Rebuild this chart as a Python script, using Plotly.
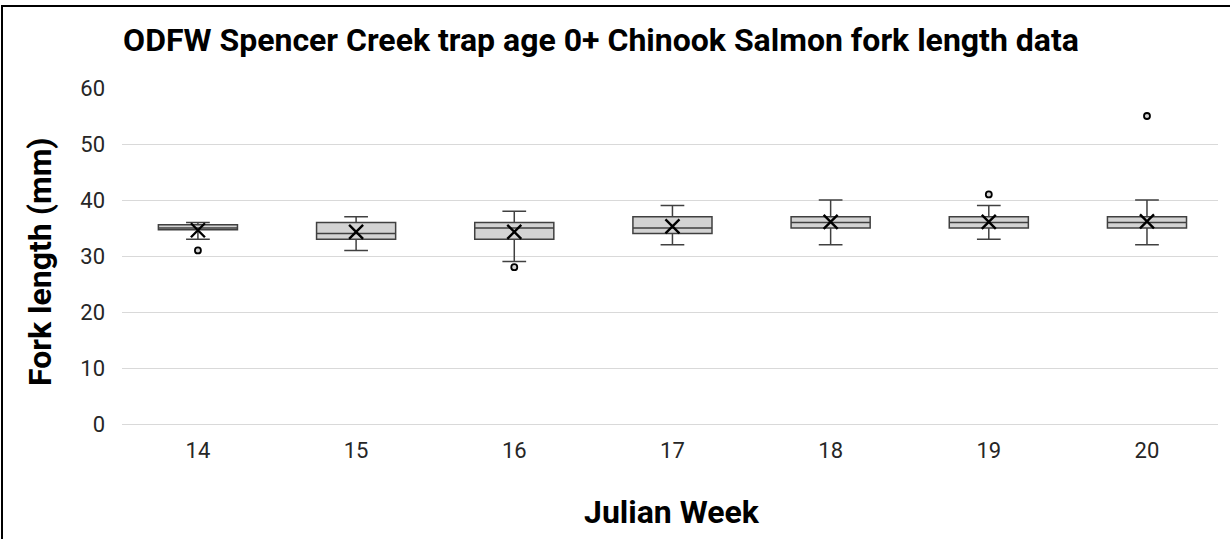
import plotly.graph_objects as go

weeks = ["14", "15", "16", "17", "18", "19", "20"]
q1 = [34.7, 33, 33, 34, 35, 35, 35]
median = [35, 34, 35, 35, 36, 36, 36]
q3 = [35.6, 36, 36, 37, 37, 37, 37]
lower = [33, 31, 29, 32, 32, 33, 32]
upper = [36, 37, 38, 39, 40, 39, 40]
means = [34.6, 34.3, 34.3, 35.3, 36.1, 36.1, 36.2]
outlier_weeks = ["14", "16", "19", "20"]
outlier_vals = [31, 28, 41, 55]

L, R, T, B = 122, 12, 88, 115
W, H = 1230, 539
pw, ph = W - L - R, H - T - B

fig = go.Figure()
fig.add_trace(go.Box(
    x=weeks, q1=q1, median=median, q3=q3,
    lowerfence=lower, upperfence=upper,
    fillcolor="#d3d3d3", line=dict(color="#404040", width=1.5),
    width=0.5, whiskerwidth=0.3, boxpoints=False, showlegend=False,
    hoverinfo="skip",
))
fig.add_trace(go.Scatter(
    x=weeks, y=means, mode="markers",
    marker=dict(symbol="x-thin", size=14, line=dict(color="black", width=2.4)),
    showlegend=False,
))
fig.add_trace(go.Scatter(
    x=outlier_weeks, y=outlier_vals, mode="markers",
    marker=dict(symbol="circle", size=6, color="#d3d3d3", line=dict(color="black", width=1.8)),
    showlegend=False,
))

fig.update_layout(
    width=W, height=H,
    margin=dict(l=L, r=R, t=T, b=B),
    paper_bgcolor="white", plot_bgcolor="white",
    font=dict(family="Roboto, Noto Sans, sans-serif"),
    title=dict(text="<b>ODFW Spencer Creek trap age 0+ Chinook Salmon fork length data</b>",
               x=601 / W, xanchor="center", y=1 - 40 / H, yanchor="middle",
               font=dict(size=32, color="black")),
    xaxis=dict(type="category", range=[-0.48, 6.449], showgrid=False, showline=True,
               linecolor="#d9d9d9",
               tickfont=dict(size=22, color="#262626"), ticks="", ticklabelstandoff=7),
    yaxis=dict(range=[0, 60], dtick=10, showgrid=True, gridcolor="#d9d9d9",
               zeroline=True, zerolinecolor="#d9d9d9", showline=False,
               tickfont=dict(size=22, color="#262626"), ticks="", ticklabelstandoff=16),
    annotations=[
        dict(text="<b>Fork length (mm)</b>", textangle=-90, xref="paper", yref="paper",
             x=(40 - L) / pw, y=(H - B - 262) / ph, xanchor="center", yanchor="middle",
             showarrow=False, font=dict(size=32, color="black")),
        dict(text="<b>Julian Week</b>", xref="paper", yref="paper",
             x=(672 - L) / pw, y=(H - B - 512) / ph, xanchor="center", yanchor="middle",
             showarrow=False, font=dict(size=32, color="black")),
    ],
    shapes=[dict(type="rect", xref="paper", yref="paper",
                 x0=(2 - L) / pw, x1=(W + 20 - L) / pw,
                 y0=(H - B - (H + 20)) / ph, y1=(H - B - 6) / ph,
                 line=dict(color="black", width=2), fillcolor="rgba(0,0,0,0)")],
)

fig.write_html("out.html", config={"displayModeBar": False},
               post_script="document.body.style.margin='0';")
